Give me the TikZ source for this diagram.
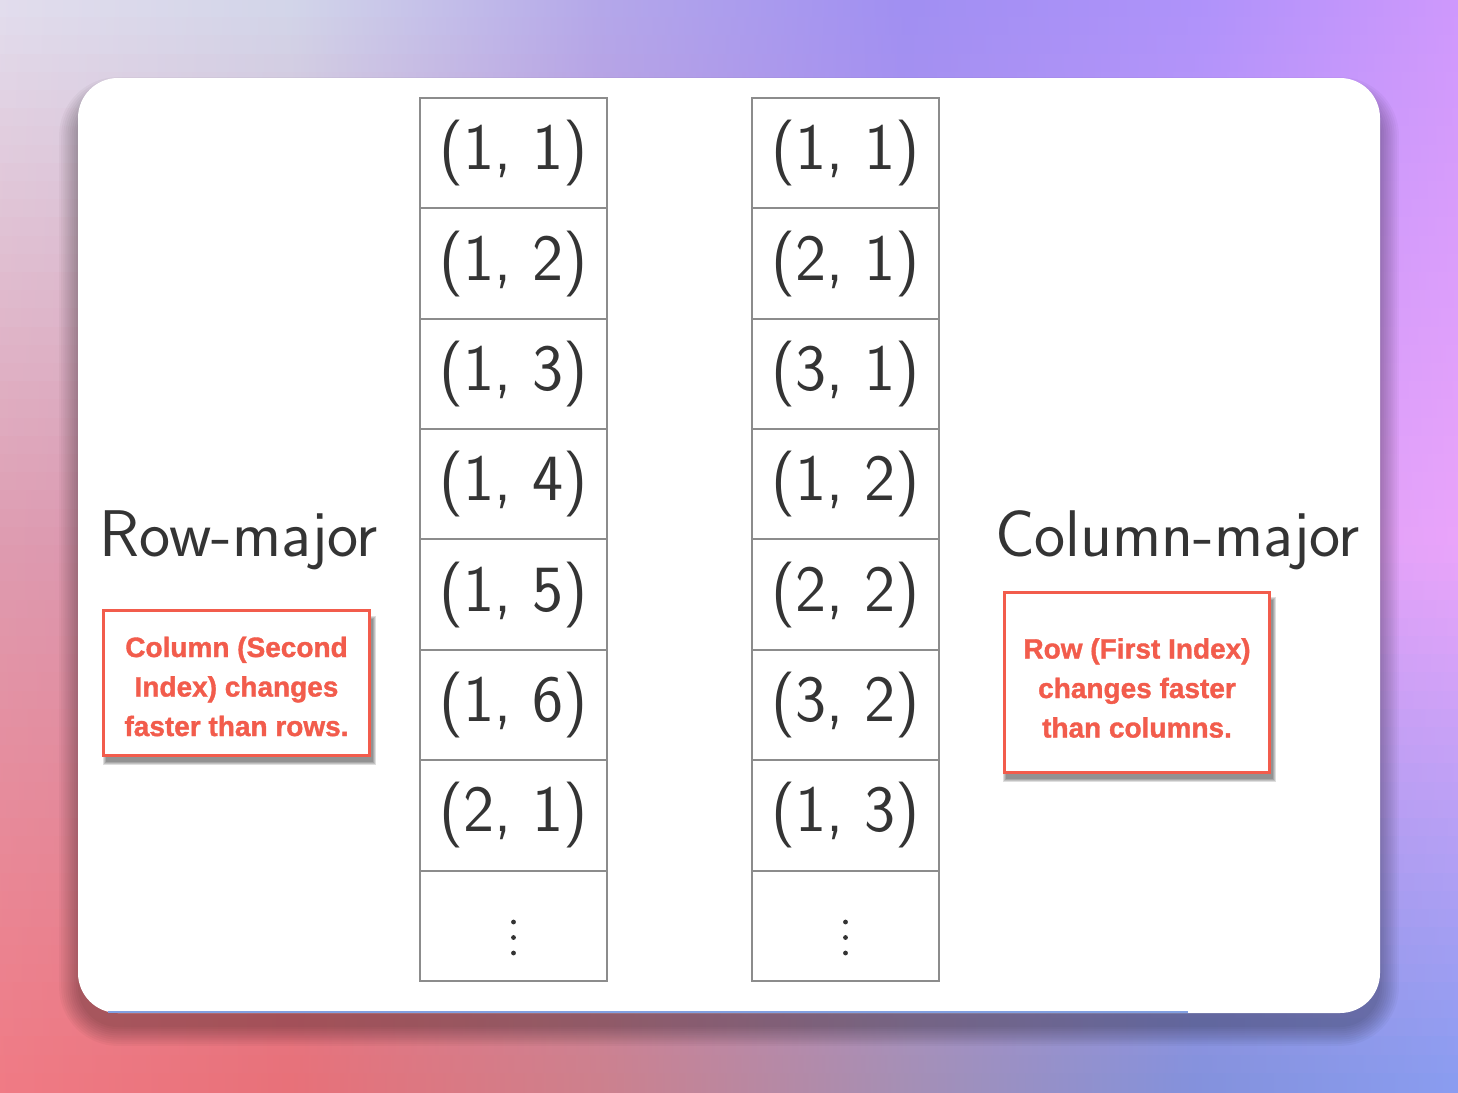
\documentclass[tikz,border=0pt]{standalone}
\usepackage{fontspec}
\newfontfamily\notefont[FakeBold=1.3]{Liberation Sans Bold}
\usetikzlibrary{calc}
\definecolor{T0}{RGB}{226,222,238}
\definecolor{T1}{RGB}{210,214,234}
\definecolor{T2}{RGB}{180,168,234}
\definecolor{T3}{RGB}{160,143,242}
\definecolor{T4}{RGB}{174,146,250}
\definecolor{T5}{RGB}{206,152,252}
\definecolor{M0}{RGB}{222,155,176}
\definecolor{M1}{RGB}{215,145,175}
\definecolor{M2}{RGB}{200,140,200}
\definecolor{M3}{RGB}{185,150,232}
\definecolor{M4}{RGB}{212,158,246}
\definecolor{M5}{RGB}{234,164,250}
\definecolor{B0}{RGB}{240,122,132}
\definecolor{B1}{RGB}{232,112,120}
\definecolor{B2}{RGB}{205,128,140}
\definecolor{B3}{RGB}{165,143,180}
\definecolor{B4}{RGB}{130,145,220}
\definecolor{B5}{RGB}{136,156,240}
\definecolor{cellgray}{RGB}{140,140,140}
\definecolor{celltext}{RGB}{52,52,52}
\definecolor{notered}{RGB}{242,92,76}
\definecolor{edgeblue}{RGB}{130,160,225}
\begin{document}
\begin{tikzpicture}[x=1pt,y=-1pt,
  cell/.style={draw=cellgray, line width=2pt, fill=white, minimum width=187pt,
    minimum height=110.4pt, inner sep=0pt, font=\sffamily\fontsize{66}{66}\selectfont, text=celltext},
  redbox/.style={draw=notered, line width=3pt, fill=white, inner sep=0pt},
  notetext/.style={font=\notefont\fontsize{28}{39.5}\selectfont, text=notered,
    align=center, inner sep=0pt},
  biglabel/.style={font=\sffamily\fontsize{66}{66}\selectfont, text=celltext, inner sep=0pt}]
\useasboundingbox (0,0) rectangle (1458,1092);
% background gradient in strips
\foreach \i in {0,...,59}{
  \pgfmathsetmacro\ya{\i*18.2-0.6}
  \pgfmathsetmacro\yb{(\i+1)*18.2+0.6}
  \pgfmathsetmacro\yc{(\i+0.5)*18.2}
  \ifdim\yc pt<546pt
    \pgfmathtruncatemacro\p{round((546-\yc)/546*100)}
    \colorlet{S0}{T0!\p!M0}\colorlet{S1}{T1!\p!M1}\colorlet{S2}{T2!\p!M2}
    \colorlet{S3}{T3!\p!M3}\colorlet{S4}{T4!\p!M4}\colorlet{S5}{T5!\p!M5}
  \else
    \pgfmathtruncatemacro\p{round((1092-\yc)/546*100)}
    \colorlet{S0}{M0!\p!B0}\colorlet{S1}{M1!\p!B1}\colorlet{S2}{M2!\p!B2}
    \colorlet{S3}{M3!\p!B3}\colorlet{S4}{M4!\p!B4}\colorlet{S5}{M5!\p!B5}
  \fi
  \pgfdeclarehorizontalshading{bgs\i}{100bp}{color(0bp)=(S0); color(25bp)=(S0);
    color(35bp)=(S1); color(45.5bp)=(S2); color(56bp)=(S3); color(66bp)=(S4);
    color(75bp)=(S5); color(100bp)=(S5)}
  \shade[shading=bgs\i] (0,\ya) rectangle (1458,\yb);
}
% card shadow
\foreach \k in {0,...,9}{
  \pgfmathsetmacro\e{2.1*\k}
  \pgfmathsetmacro\rr{40+\e}
  \fill[black, opacity=0.032, rounded corners=\rr pt] (78-\e,96-\e) rectangle (1380+\e,1027+\e);
}
% card
\fill[white, rounded corners=40pt] (78,78) rectangle (1380,1013);
\draw[edgeblue, line width=1.6pt] (108,1012.2) -- (1188,1012.2);
% row-major column
\foreach \t [count=\i] in {{(1, 1)},{(1, 2)},{(1, 3)},{(1, 4)},{(1, 5)},{(1, 6)},{(2, 1)},{}}{
  \node[cell] (l\i) at (513.5,{98+(\i-0.5)*110.375}) {\t};
}
% column-major column
\foreach \t [count=\i] in {{(1, 1)},{(2, 1)},{(3, 1)},{(1, 2)},{(2, 2)},{(3, 2)},{(1, 3)},{}}{
  \node[cell] (r\i) at (845.5,{98+(\i-0.5)*110.375}) {\t};
}
\foreach \n in {l8,r8}{
  \foreach \dy in {-3.8,11.7,27.2}{
    \fill[celltext] ($(\n.center)+(0,\dy)$) circle (2.4pt);
  }
}
% titles
\node[biglabel, anchor=base] (rowmajor) at (239,556) {Row-major};
\node[biglabel, anchor=base] (colmajor) at (1177.5,556) {Column-major};
% note boxes
\foreach \k in {0,1,2,3}{
  \fill[black, opacity=0.13] (105.5-\k,618.5-\k) rectangle (372.5+\k,761.5+\k);
  \fill[black, opacity=0.13] (1006-\k,600-\k) rectangle (1272.5+\k,778.5+\k);
}
\node[redbox, minimum width=266pt, minimum height=145pt] (lbox) at (236.5,683) {};
\node[notetext] (ltext) at (236.5,686.5) {Column (Second\\Index) changes\\faster than rows.};
\node[redbox, minimum width=265pt, minimum height=180pt] (rbox) at (1137,682.5) {};
\node[notetext] (rtext) at (1137,688) {Row (First Index)\\changes faster\\than columns.};
\end{tikzpicture}
\end{document}
